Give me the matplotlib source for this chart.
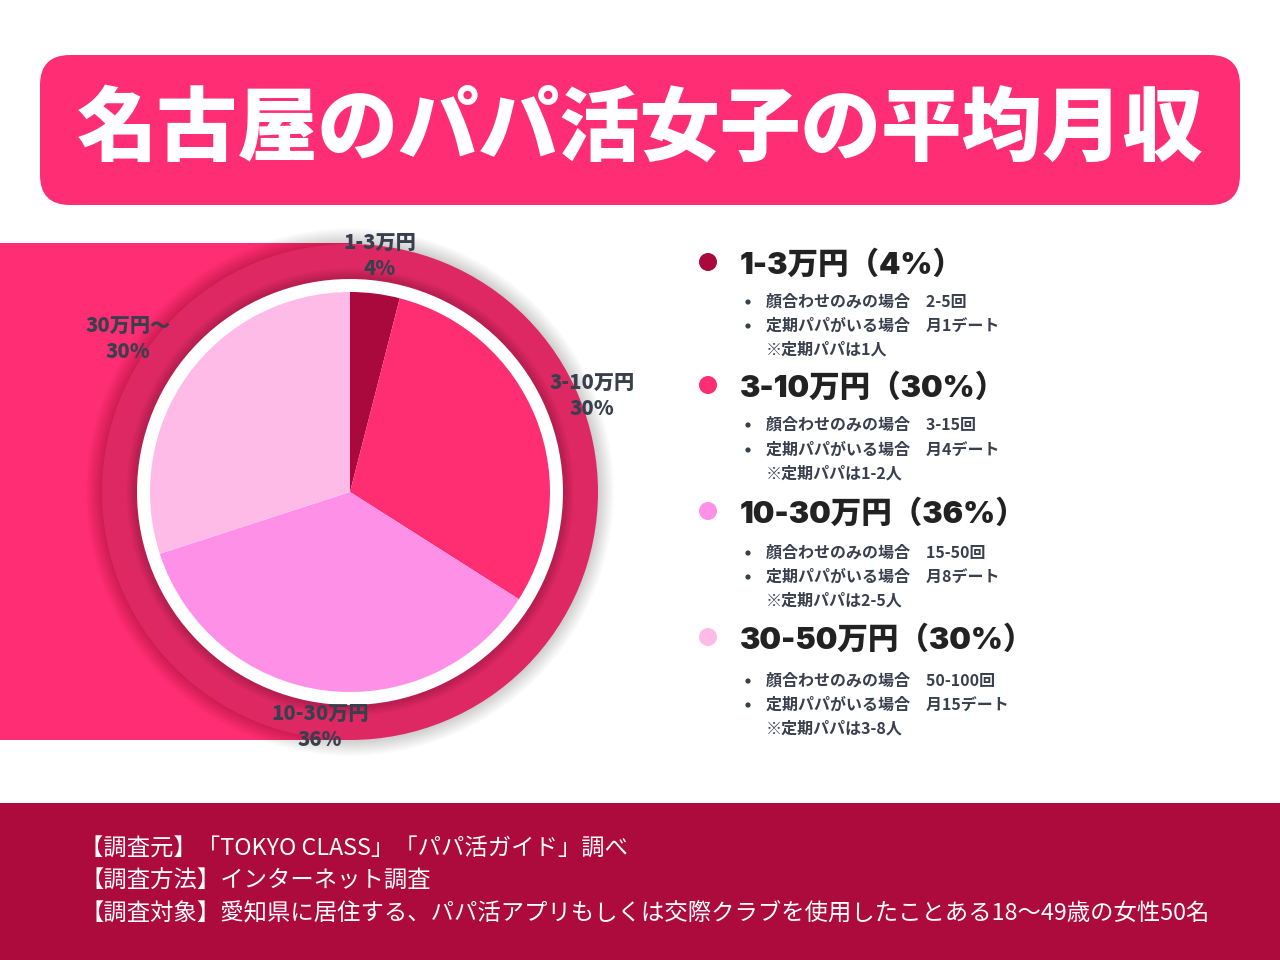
import matplotlib

matplotlib.use("Agg")
import matplotlib.pyplot as plt
from matplotlib.patches import Circle, FancyBboxPatch, Rectangle

plt.rcParams["font.family"] = ["Noto Sans CJK JP", "DejaVu Sans"]

# chart data
title = "名古屋のパパ活女子の平均月収"
shares = [4, 30, 36, 30]
slice_colors = ["#A9093D", "#FF2D72", "#FF90E8", "#FFBBE8"]
pie_labels = ["1-3万円\n4%", "3-10万円\n30%", "10-30万円\n36%", "30万円～\n30%"]
legend_titles = ["1-3万円（4%）", "3-10万円（30%）", "10-30万円（36%）", "30-50万円（30%）"]
meet_counts = ["2-5回", "3-15回", "15-50回", "50-100回"]
dates_per_month = ["月1デート", "月4デート", "月8デート", "月15デート"]
papa_counts = ["1人", "1-2人", "2-5人", "3-8人"]
footer_lines = [
    "【調査元】「TOKYO CLASS」「パパ活ガイド」調べ",
    "【調査方法】インターネット調査",
    "【調査対象】愛知県に居住する、パパ活アプリもしくは交際クラブを使用したことある18～49歳の女性50名",
]

W, H = 1280, 960
PINK = "#FF2D73"
TEXT = "#3A3F4E"
HEAD_FONT = ["Inter", "Noto Sans CJK JP", "DejaVu Sans"]

fig = plt.figure(figsize=(W / 100, H / 100), dpi=100)
ax = fig.add_axes([0, 0, 1, 1])

# title banner
ax.add_patch(FancyBboxPatch((70, 85), 1140, 90, boxstyle="round,pad=30,rounding_size=30",
                            fc=PINK, ec="none"))
ax.text(640, 130, title, color="white", fontsize=58, fontweight="black",
        ha="center", va="center")

# pie backdrop: band + ring with soft shadow
cx, cy = 350, 492
ax.add_patch(Rectangle((0, 243), cx, 497, fc=PINK, ec="none"))
for k in range(16):
    ax.add_patch(Circle((cx, cy), 264 - k, fc="black", ec="none", alpha=0.012, zorder=2))
ax.add_patch(Circle((cx, cy), 248, fc="#DE2864", ec="none", zorder=3))
for k in range(10):
    ax.add_patch(Circle((cx, cy), 224 - k, fc="black", ec="none", alpha=0.015, zorder=3))
ax.add_patch(Circle((cx, cy), 213, fc="white", ec="none", zorder=4))

# y axis is inverted (pixel coords), so start at -90 and go counterclock in data = clockwise on screen
wedges, _ = ax.pie(shares, colors=slice_colors, startangle=-90, counterclock=True,
                   radius=200, center=(cx, cy), wedgeprops=dict(linewidth=0))
for w in wedges:
    w.set_zorder(5)

label_pos = [(380, 256), (592, 396), (320, 727), (128, 339)]
for (lx, ly), lab in zip(label_pos, pie_labels):
    ax.text(lx, ly, lab, color=TEXT, fontsize=14.5, fontweight="black", ha="center",
            va="center", linespacing=1.4, zorder=6)

# legend blocks
block_y = [265, 388, 514, 640]
detail_y = [[302, 326, 350], [425, 450, 474], [553, 577, 601], [681, 705, 729]]
for i, by in enumerate(block_y):
    ax.add_patch(Circle((708, by - 3), 9, fc=slice_colors[i], ec="none"))
    ax.text(740, by, legend_titles[i], color="#222222", fontsize=22, fontweight="black",
            family=HEAD_FONT, ha="left", va="center")
    d1, d2, d3 = detail_y[i]
    ax.add_patch(Circle((748, d1), 2.6, fc=TEXT, ec="none"))
    ax.add_patch(Circle((748, d2), 2.6, fc=TEXT, ec="none"))
    ax.text(766, d1, "顔合わせのみの場合\u3000" + meet_counts[i], color=TEXT, fontsize=11.5,
            fontweight="bold", ha="left", va="center")
    ax.text(766, d2, "定期パパがいる場合\u3000" + dates_per_month[i], color=TEXT, fontsize=11.5,
            fontweight="bold", ha="left", va="center")
    ax.text(766, d3, "※定期パパは" + papa_counts[i], color=TEXT, fontsize=11.5,
            fontweight="bold", ha="left", va="center")

# footer
ax.add_patch(Rectangle((0, 803), W, H - 803, fc="#AD0A3D", ec="none"))
for fy, line in zip([849, 881, 913], footer_lines):
    ax.text(80, fy, line, color="white", fontsize=16.8, ha="left", va="center")

ax.set_xlim(0, W)
ax.set_ylim(H, 0)
ax.set_aspect("equal")
ax.axis("off")

fig.savefig("out.png", dpi=100, facecolor="white")
